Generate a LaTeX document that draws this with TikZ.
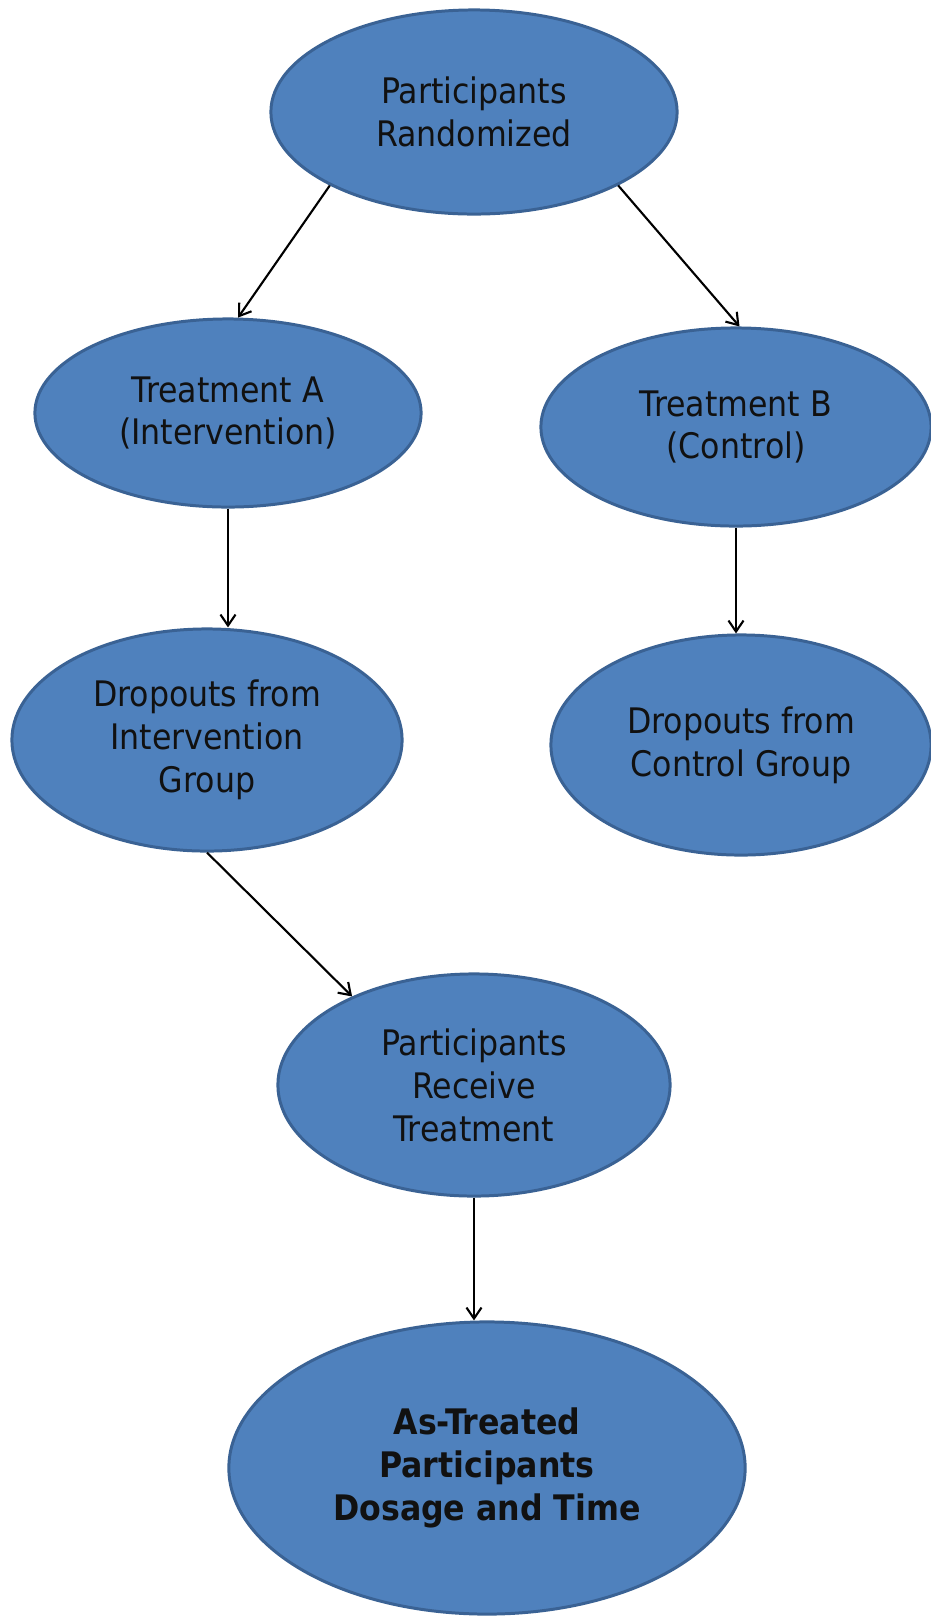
\documentclass[tikz,border=0pt]{standalone}
\usepackage{fontspec}
\setmainfont{DejaVu Sans Condensed}
\usepackage{tikz}
\usetikzlibrary{arrows.meta,shapes.geometric}
\definecolor{cFill}{HTML}{4F81BD}
\definecolor{cEdge}{HTML}{3A6294}
\definecolor{cInk}{HTML}{111111}

\begin{document}
\begin{tikzpicture}[x=0.01cm, y=0.01cm,
    font=\fontsize{10}{12.2}\selectfont,
    blob/.style={ellipse, draw=cEdge, fill=cFill, line width=0.85pt,
      inner sep=0pt, align=center, text=cInk},
    link/.style={-{Straight Barb[length=1.1mm,width=1.5mm]}, line width=0.6pt}]
    \useasboundingbox (0,0) rectangle (931,-1617);

    % --- ellipses (sizes in cm: 1px = 0.01cm) -------------------------
    \node[blob, minimum width=4.06cm, minimum height=2.04cm] (rand) at (474,-112)
      {Participants\\Randomized};
    \node[blob, minimum width=3.86cm, minimum height=1.88cm] (treatA) at (228,-413)
      {Treatment A\\(Intervention)};
    \node[blob, minimum width=3.90cm, minimum height=1.98cm] (treatB) at (736,-427)
      {Treatment B\\(Control)};
    \node[blob, minimum width=3.90cm, minimum height=2.22cm] (dropA) at (207,-740)
      {Dropouts from\\Intervention\\Group};
    \node[blob, minimum width=3.80cm, minimum height=2.20cm] (dropB) at (741,-745)
      {Dropouts from\\Control Group};
    \node[blob, minimum width=3.92cm, minimum height=2.22cm] (receive) at (474,-1085)
      {Participants\\Receive\\Treatment};
    \node[blob, minimum width=5.16cm, minimum height=2.92cm] (asTreated) at (487,-1468)
      {\bfseries As-Treated\\\bfseries Participants\\\bfseries Dosage and Time};

    % --- arrows -------------------------------------------------------
    \draw[link] (rand.207) -- (treatA.84);
    \draw[link] (rand.333) -- (treatB.88);
    \draw[link] (treatA.south) -- (treatA.south |- dropA.north);
    \draw[link] (treatB.south) -- (treatB.south |- dropB.north);
    \draw[link] (dropA.south) -- (receive.144);
    \draw[link] (receive.south) -- (receive.south |- asTreated.north);
  \end{tikzpicture}
\end{document}
